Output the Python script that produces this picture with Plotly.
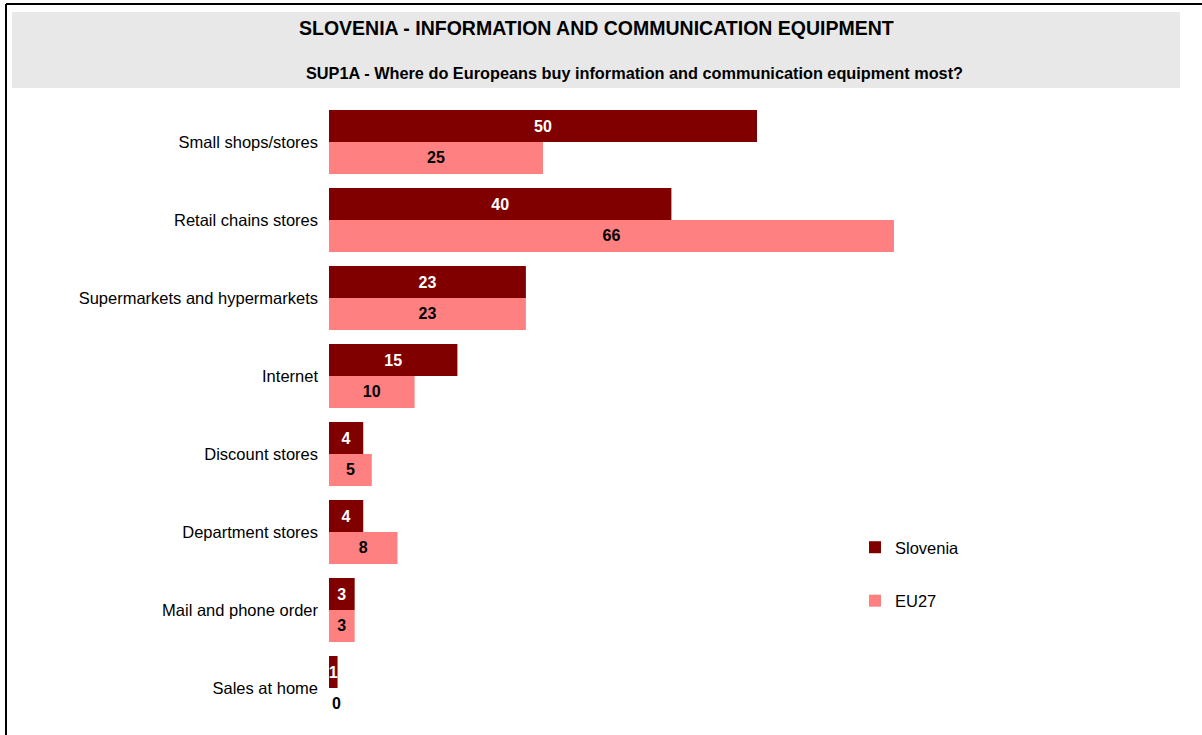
import plotly.graph_objects as go

categories = [
    "Small shops/stores",
    "Retail chains stores",
    "Supermarkets and hypermarkets",
    "Internet",
    "Discount stores",
    "Department stores",
    "Mail and phone order",
    "Sales at home",
]
slovenia = [50, 40, 23, 15, 4, 4, 3, 1]
eu27 = [25, 66, 23, 10, 5, 8, 3, 0]

title_main = "SLOVENIA - INFORMATION AND COMMUNICATION EQUIPMENT"
title_sub = "SUP1A - Where do Europeans buy information and communication equipment most?"

W, H = 1202, 735
L, R, T, B = 329, 22, 103, 8
PW, PH = W - L - R, H - T - B
XMAX = PW / 8.56

FONT = "Arial, Liberation Sans, sans-serif"


def px(x):
    return (x - L) / PW


def py(y):
    return (H - B - y) / PH


fig = go.Figure()
fig.add_trace(go.Bar(
    y=categories, x=slovenia, orientation="h", name="Slovenia",
    marker=dict(color="#800000", line=dict(width=0)),
    texttemplate="<b>%{x}</b>", textposition="inside",
    insidetextanchor="middle", constraintext="none",
    textfont=dict(color="white", size=16, family=FONT),
    legendgroup="a",
))
fig.add_trace(go.Bar(
    y=categories, x=eu27, orientation="h", name="EU27",
    marker=dict(color="#FF8080", line=dict(width=0)),
    texttemplate="<b>%{x}</b>",
    textposition=["inside" if v > 0 else "outside" for v in eu27],
    insidetextanchor="middle", constraintext="none",
    textfont=dict(color="black", size=16, family=FONT),
    legendgroup="b",
))

shapes = [
    dict(type="rect", xref="paper", yref="paper",
         x0=px(12), x1=px(1180), y0=py(88), y1=py(12),
         fillcolor="#E8E8E8", line=dict(width=0), layer="below"),
    dict(type="line", xref="paper", yref="paper",
         x0=px(6), x1=px(1210), y0=py(4), y1=py(4),
         line=dict(color="black", width=2)),
    dict(type="line", xref="paper", yref="paper",
         x0=px(6), x1=px(6), y0=py(4), y1=py(745),
         line=dict(color="black", width=2)),
]

annotations = [
    dict(text="<b>" + title_main + "</b>", xref="paper", yref="paper",
         x=px(596), y=py(28), showarrow=False, xanchor="center", yanchor="middle",
         font=dict(size=19.5, color="black", family=FONT)),
    dict(text="<b>" + title_sub + "</b>", xref="paper", yref="paper",
         x=px(634), y=py(73), showarrow=False, xanchor="center", yanchor="middle",
         font=dict(size=16.3, color="black", family=FONT)),
]

fig.update_layout(
    width=W, height=H,
    margin=dict(l=L, r=R, t=T, b=B),
    paper_bgcolor="white", plot_bgcolor="white",
    barmode="group", bargap=0.18, bargroupgap=0,
    font=dict(family=FONT, size=16, color="black"),
    showlegend=True,
    legend=dict(x=px(855), y=py(530), xanchor="left", yanchor="top",
                tracegroupgap=29, font=dict(size=16.5, family=FONT),
                bgcolor="rgba(0,0,0,0)"),
    shapes=shapes, annotations=annotations,
    xaxis=dict(range=[0, XMAX], visible=False, fixedrange=True),
    yaxis=dict(autorange="reversed", showgrid=False, showline=False,
               ticks="", ticklabelstandoff=10, tickfont=dict(size=16.5, family=FONT)),
)

fig.write_html("out.html", config={"displayModeBar": False},
               post_script="document.body.style.margin='0';document.body.style.padding='0';")
